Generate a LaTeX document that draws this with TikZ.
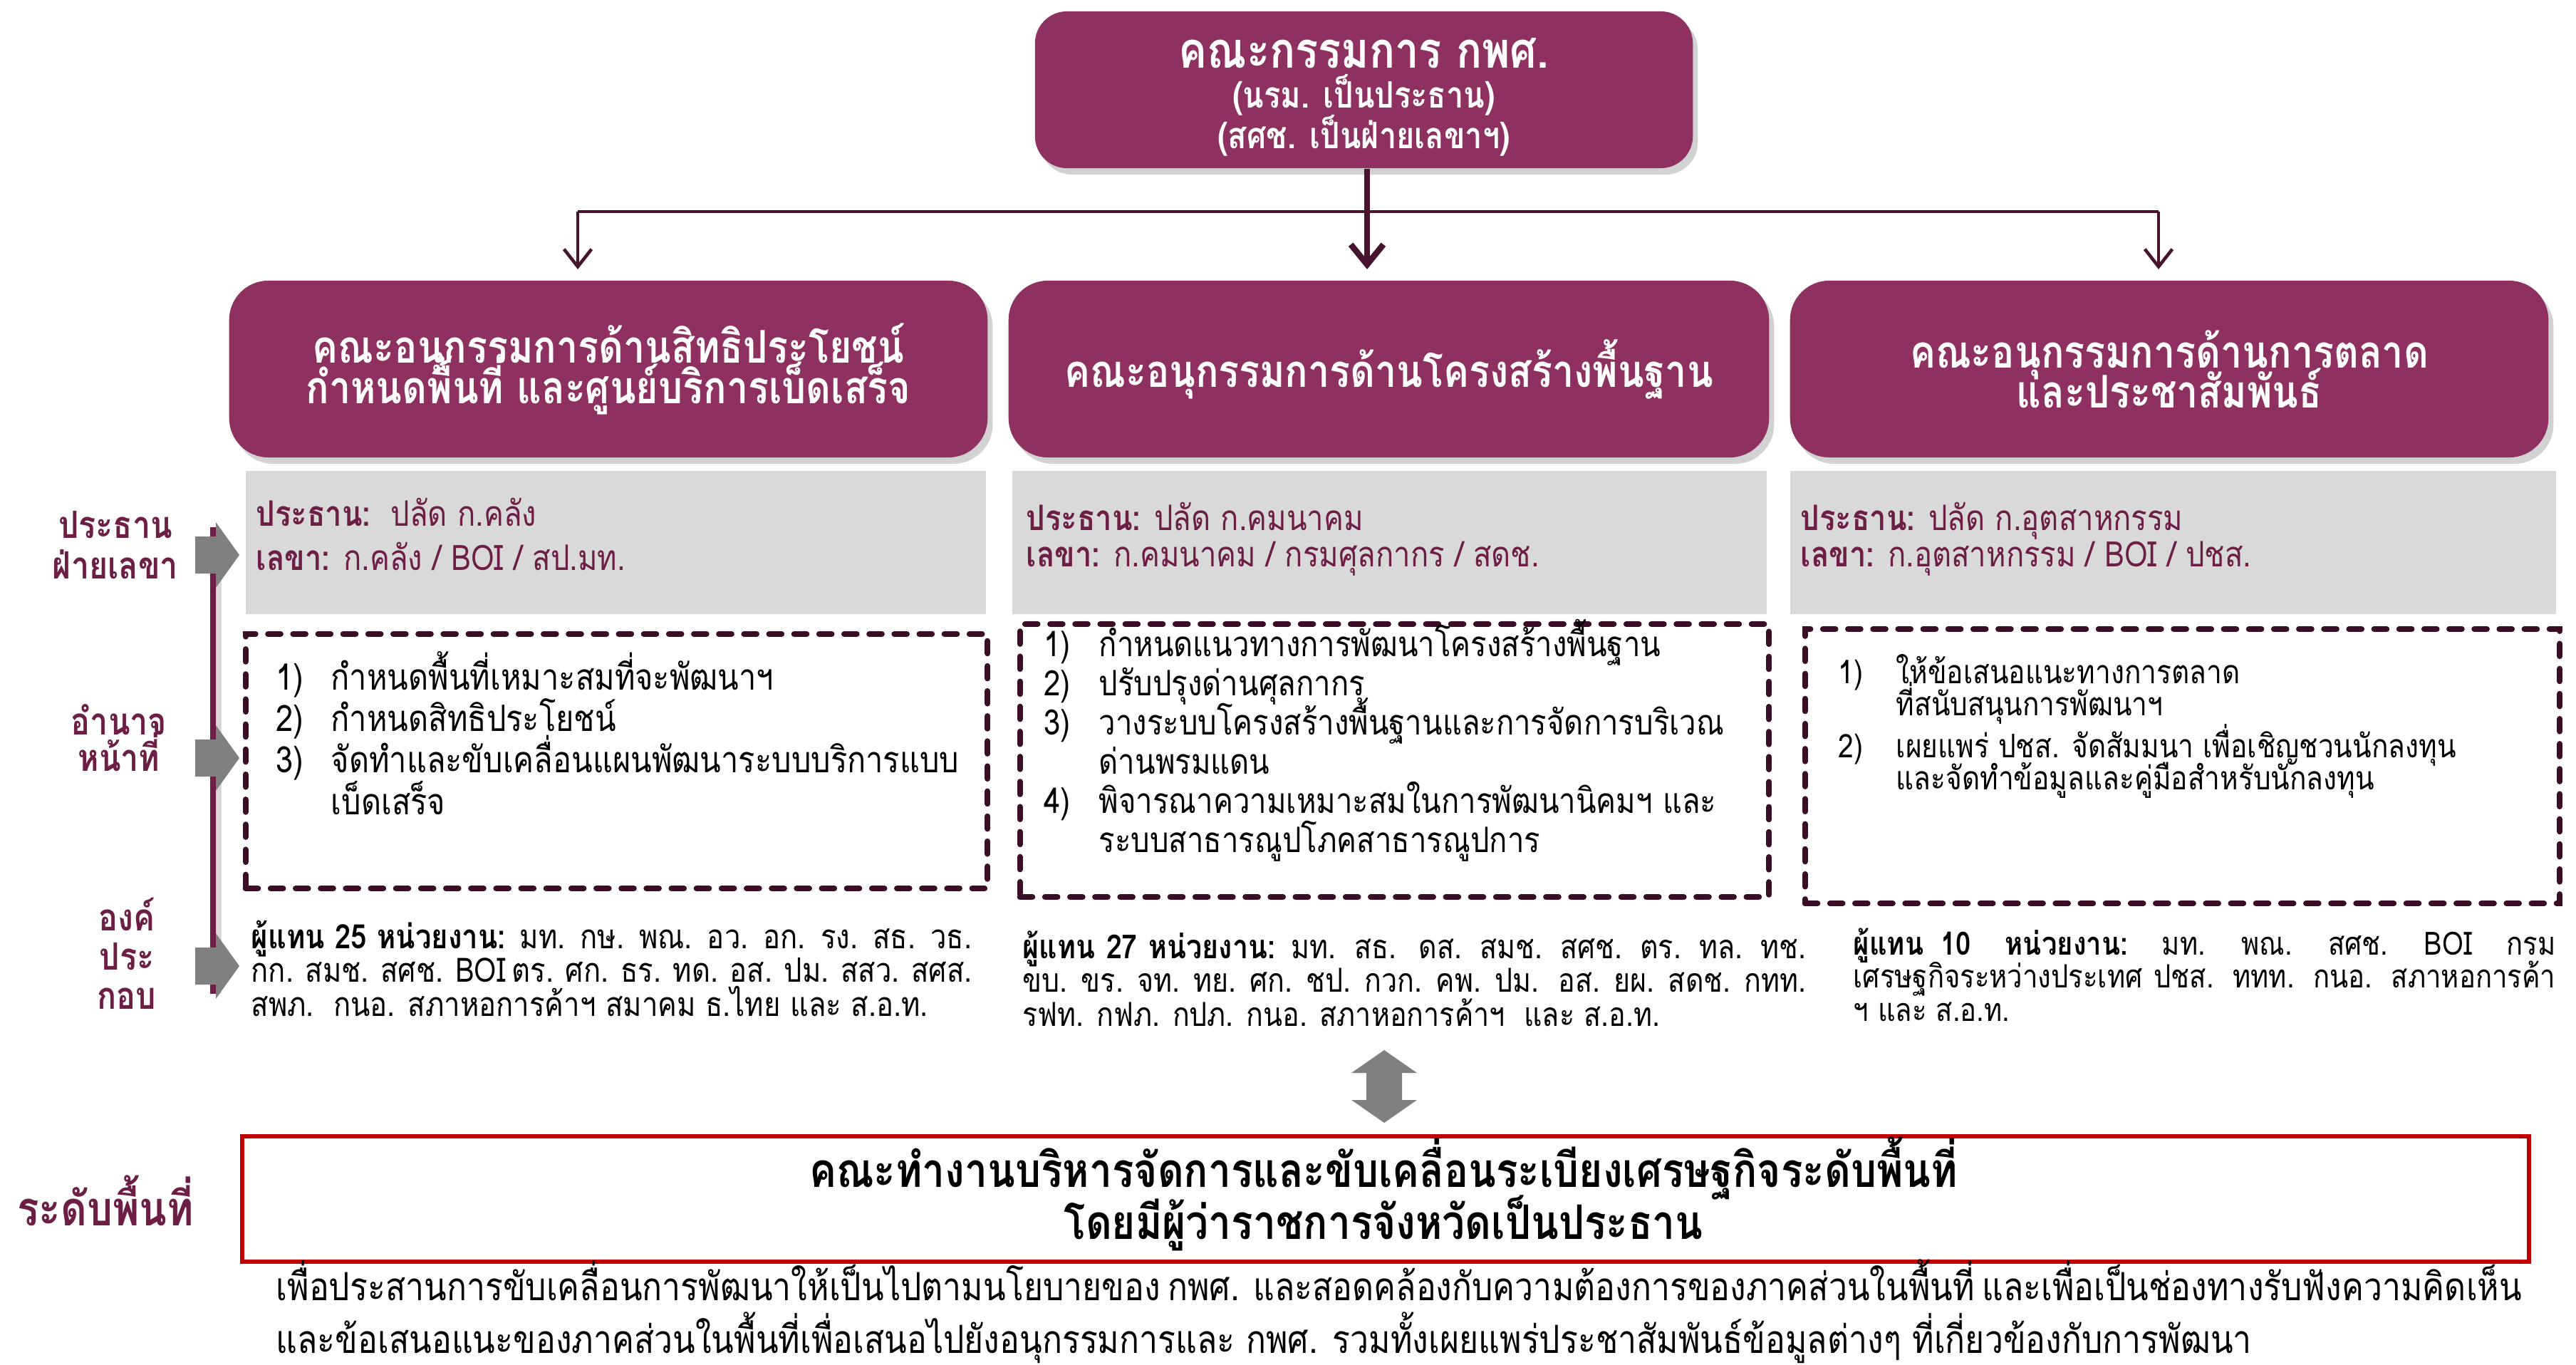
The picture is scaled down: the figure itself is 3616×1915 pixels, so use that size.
\documentclass[tikz,border=0pt]{standalone}
\usepackage{fontspec}
\setmainfont[Script=Thai, FakeStretch=0.85]{Loma}
\usetikzlibrary{shadows, arrows.meta}
\definecolor{plum}{RGB}{142,49,96}
\definecolor{darkplum}{RGB}{108,30,68}
\definecolor{dashcol}{RGB}{58,14,36}
\definecolor{linecol}{RGB}{70,20,45}
\definecolor{boxgray}{RGB}{217,217,217}
\definecolor{arrgray}{RGB}{128,128,128}
\definecolor{redline}{RGB}{192,0,0}
\newcommand\num[1]{\makebox[0.77cm][l]{#1}}
\newcommand\numr[1]{\makebox[0.81cm][l]{#1}}
\newcommand\fs[2]{\fontsize{#1}{#2}\selectfont\lineskiplimit=-100pt\lineskip=0pt\relax}
\begin{document}
\begin{tikzpicture}[x=0.01cm, y=-0.01cm,
  plumbox/.style={fill=plum, text=white, align=center, inner sep=0pt, rounded corners=0.55cm,
    drop shadow={shadow xshift=0.07cm, shadow yshift=-0.09cm, opacity=0.35}},
  graybox/.style={fill=boxgray, inner sep=0pt},
  dashbox/.style={draw=dashcol, line width=2.3pt, dash pattern=on 5pt off 5pt, line cap=round, inner sep=0pt},
  graytxt/.style={text=darkplum, align=left, inner sep=0pt, font=\fs{14}{17.6}},
  listtxt/.style={text=black, align=left, inner sep=0pt},
  reptxt/.style={text=black, align=left, inner sep=0pt, font=\fs{13.4}{13.4}},
  sidelabel/.style={text=darkplum, align=center, inner sep=0pt},
  conn/.style={draw=linecol, line width=1.3pt},
  blockarrow/.style={fill=arrgray, draw=none}
]
\fill[white] (0,0) rectangle (3616,1915);
\useasboundingbox (0,0) rectangle (3616,1915);

% top box
\node[plumbox, rounded corners=0.45cm, minimum width=9.23cm, minimum height=2.20cm] (top) at (1914.5,126) {};
\node[text=white, align=center, inner sep=0pt, anchor=base, font=\fs{14.5}{16}\bfseries] (toptxt) at (1914.5,208)
  {{\fontsize{20}{16}\selectfont คณะกรรมการ กพศ.}\\(นรม. เป็นประธาน)\\(สศช. เป็นฝ่ายเลขาฯ)};

% committees
\node[plumbox, minimum width=10.64cm, minimum height=2.48cm, font=\fs{18}{16}\bfseries] (c1) at (854,518)
  {คณะอนุกรรมการด้านสิทธิประโยชน์\\กำหนดพื้นที่ และศูนย์บริการเบ็ดเสร็จ};
\node[plumbox, minimum width=10.67cm, minimum height=2.48cm, font=\fs{18}{16}\bfseries] (c2) at (1949.5,518)
  {คณะอนุกรรมการด้านโครงสร้างพื้นฐาน};
\node[plumbox, minimum width=10.64cm, minimum height=2.48cm, font=\fs{18}{16}\bfseries] (c3) at (3045,518)
  {คณะอนุกรรมการด้านการตลาด\\และประชาสัมพันธ์};

% connectors
\coordinate (jl) at (811,297);
\coordinate (jr) at (3030,297);
\coordinate (jm) at (1919,297);
\coordinate (al) at (811,378);
\coordinate (ar) at (3030,378);
\coordinate (am) at (1919,378);
\draw[conn] (jl) -- (jr);
\draw[conn, -{Straight Barb[length=7pt,width=11pt,line width=1.3pt]}] (jl) -- (al);
\draw[conn, -{Straight Barb[length=7pt,width=11pt,line width=1.3pt]}] (jr) -- (ar);
\draw[conn, line width=2.4pt, -{Straight Barb[length=8pt,width=13pt,line width=2.4pt]}] (top.south -| jm) -- (am);

% gray boxes
\node[graybox, minimum width=10.39cm, minimum height=2.01cm] (g1) at (864.5,761.5) {};
\node[graybox, minimum width=10.59cm, minimum height=2.01cm] (g2) at (1950.5,761.5) {};
\node[graybox, minimum width=10.75cm, minimum height=2.01cm] (g3) at (3050.5,761.5) {};
\node[graytxt, anchor=base west] (g1t) at (359,800)
  {\textbf{ประธาน:}\ \ ปลัด ก.คลัง\\\textbf{เลขา:} ก.คลัง / BOI / สป.มท.};
\node[graytxt, anchor=base west, font=\fs{14}{14.5}] (g2t) at (1440,795)
  {\textbf{ประธาน:} ปลัด ก.คมนาคม\\\textbf{เลขา:} ก.คมนาคม / กรมศุลกากร / สดช.};
\node[graytxt, anchor=base west, font=\fs{14}{14.5}] (g3t) at (2527,795)
  {\textbf{ประธาน:} ปลัด ก.อุตสาหกรรม\\\textbf{เลขา:} ก.อุตสาหกรรม / BOI / ปชส.};

% dashed boxes
\node[dashbox, minimum width=10.41cm, minimum height=3.57cm] (d1) at (865.5,1068.5) {};
\node[dashbox, minimum width=10.51cm, minimum height=3.83cm] (d2) at (1957.5,1067.5) {};
\node[dashbox, minimum width=10.59cm, minimum height=3.85cm] (d3) at (3063.5,1075.5) {};
\node[listtxt, anchor=base west, font=\fs{14.5}{16.5}] (d1t) at (387,1143)
  {\num{1)}กำหนดพื้นที่เหมาะสมที่จะพัฒนาฯ\\
   \num{2)}กำหนดสิทธิประโยชน์\\
   \num{3)}จัดทำและขับเคลื่อนแผนพัฒนาระบบบริการแบบ\\
   \num{}เบ็ดเสร็จ};
\node[listtxt, anchor=base west, font=\fs{14}{15.6}] (d2t) at (1465,1196)
  {\num{1)}กำหนดแนวทางการพัฒนาโครงสร้างพื้นฐาน\\
   \num{2)}ปรับปรุงด่านศุลกากร\\
   \num{3)}วางระบบโครงสร้างพื้นฐานและการจัดการบริเวณ\\
   \num{}ด่านพรมแดน\\
   \num{4)}พิจารณาความเหมาะสมในการพัฒนานิคมฯ และ\\
   \num{}ระบบสาธารณูปโภคสาธารณูปการ};
\node[listtxt, anchor=base west, font=\fs{13}{12.8}] (d3t) at (2580,1108)
  {\numr{1)}ให้ข้อเสนอแนะทางการตลาด\\
   \numr{}ที่สนับสนุนการพัฒนาฯ\\[3.7pt]
   \numr{2)}เผยแพร่ ปชส. จัดสัมมนา เพื่อเชิญชวนนักลงทุน\\
   \numr{}และจัดทำข้อมูลและคู่มือสำหรับนักลงทุน};

% representatives
\node[reptxt, anchor=base west] (r1) at (352,1426)
  {\makebox[10.11cm][s]{\textbf{ผู้แทน 25 หน่วยงาน:} มท. กษ. พณ. อว. อก. รง. สธ. วธ.}\\
   \makebox[10.11cm][s]{กก. สมช. สศช. BOI ตร. ศก. ธร. ทด. อส. ปม. สสว. สศส.}\\
   สพภ.\ \ กนอ. สภาหอการค้าฯ สมาคม ธ.ไทย และ ส.อ.ท.};
\node[reptxt, anchor=base west, font=\fs{13.2}{13.4}] (r2) at (1435,1440)
  {\makebox[10.99cm][s]{\textbf{ผู้แทน 27 หน่วยงาน:} มท. สธ.\ \ ดส. สมช. สศช. ตร. ทล. ทช.}\\
   \makebox[10.99cm][s]{ขบ. ขร. จท. ทย. ศก. ชป. กวก. คพ. ปม.\ \ อส. ยผ. สดช. กทท.}\\
   รฟท. กฟภ. กปภ. กนอ. สภาหอการค้าฯ\ \ และ ส.อ.ท.};
\node[reptxt, anchor=base west, font=\fs{12.8}{13.1}] (r3) at (2601,1433)
  {\makebox[9.85cm][s]{\textbf{ผู้แทน 10\ \ หน่วยงาน:}\ \ มท. พณ. สศช. BOI\ \ กรม}\\
   \makebox[9.85cm][s]{เศรษฐกิจระหว่างประเทศ ปชส. ททท. กนอ. สภาหอการค้า}\\
   ฯ และ ส.อ.ท.};

% left side labels and arrows
\draw[draw=black!15, line width=2pt] (307,742) -- (307,1395);
\coordinate (vt) at (299,740);
\coordinate (vb) at (299,1395);
\draw[draw=darkplum, line width=2pt] (vt) -- (vb);
\foreach \yy in {779, 1064, 1356}{
  \fill[blockarrow] (274,\yy-26) -- (303,\yy-26) -- (303,\yy-46) -- (336,\yy) -- (303,\yy+46) -- (303,\yy+26) -- (274,\yy+26) -- cycle;
}
\node[sidelabel, font=\fs{15}{16}\bfseries] (s1) at (162,765) {ประธาน\\ฝ่ายเลขา};
\node[sidelabel, font=\fs{15}{14.5}\bfseries] (s2) at (167,1036) {อำนาจ\\หน้าที่};
\node[sidelabel, font=\fs{15}{15.6}\bfseries] (s3) at (178,1338) {องค์\\ประ\\กอบ};
\node[sidelabel, font=\fs{19}{20}\bfseries] (s4) at (148,1685) {ระดับพื้นที่};

% double arrow
\fill[blockarrow] (1943,1474) -- (1989,1506) -- (1968,1506) -- (1968,1544) -- (1989,1544) -- (1943,1576)
  -- (1897,1544) -- (1918,1544) -- (1918,1506) -- (1897,1506) -- cycle;

% area level box
\node[draw=redline, line width=1.8pt, inner sep=0pt, minimum width=32.08cm, minimum height=1.76cm] (area) at (1945,1683) {};
\node[align=center, inner sep=0pt, anchor=base, font=\fs{19}{20.5}\bfseries] (areatxt) at (1942,1739)
  {คณะทำงานบริหารจัดการและขับเคลื่อนระเบียงเศรษฐกิจระดับพื้นที่\\โดยมีผู้ว่าราชการจังหวัดเป็นประธาน};

% caption
\node[listtxt, anchor=base west, font=\fs{15.5}{21}] (cap) at (387,1899)
  {\makebox[31.34cm][s]{เพื่อประสานการขับเคลื่อนการพัฒนาให้เป็นไปตามนโยบายของ กพศ. และสอดคล้องกับความต้องการของภาคส่วนในพื้นที่ และเพื่อเป็นช่องทางรับฟังความคิดเห็น}\\
   และข้อเสนอแนะของภาคส่วนในพื้นที่เพื่อเสนอไปยังอนุกรรมการและ กพศ. รวมทั้งเผยแพร่ประชาสัมพันธ์ข้อมูลต่างๆ ที่เกี่ยวข้องกับการพัฒนา};
\end{tikzpicture}
\end{document}
